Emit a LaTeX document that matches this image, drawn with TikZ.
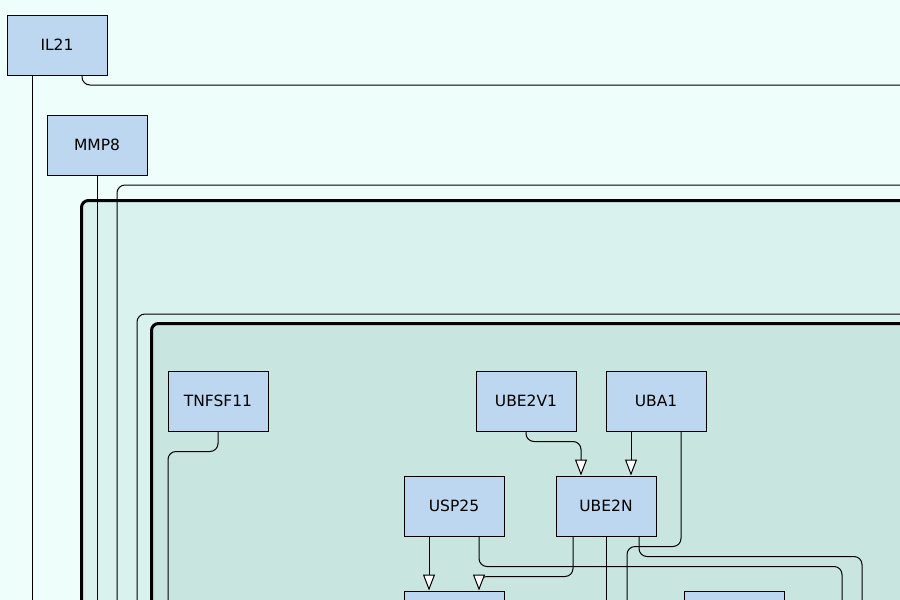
\documentclass[tikz,border=0pt]{standalone}
\usepackage{fontspec}
\setsansfont{DejaVu Sans}
\usetikzlibrary{arrows.meta}
\usepackage{xcolor}
\definecolor{bgmint}{RGB}{238,254,250}
\definecolor{compouter}{RGB}{218,242,237}
\definecolor{compinner}{RGB}{201,229,223}
\definecolor{genefill}{RGB}{189,215,240}
\tikzset{
 gene/.style={draw=black, line width=1pt, fill=genefill, minimum width=100pt, minimum height=60pt, inner sep=0pt, font=\sffamily\fontsize{15.5}{17}\selectfont},
 link/.style={black, line width=1pt, rounded corners=8pt},
 stim/.style={link, -{Triangle[length=16pt,width=12pt,fill=white]}},
 compartment/.style={draw=black, line width=3pt, rounded corners=7pt},
}
\begin{document}
\begin{tikzpicture}[x=1pt,y=-1pt]
\useasboundingbox (0,0) rectangle (900,600);
\clip (0,0) rectangle (900,600);
\fill[bgmint] (0,0) rectangle (900,600);
% free ends outside the frame
\coordinate (i1end) at (32,620);
\coordinate (i2end) at (920,85);
\coordinate (m1end) at (97,620);
\coordinate (o1beg) at (117,620);
\coordinate (o1end) at (920,185);
\coordinate (o2beg) at (137,620);
\coordinate (o2end) at (920,314);
\coordinate (t1end) at (168,620);
\coordinate (a1end) at (627,620);
\coordinate (u2end) at (842,620);
\coordinate (n2end) at (862,620);
\coordinate (n3end) at (606,620);
% compartments
\draw[compartment, fill=compouter] (81.5,200.5) rectangle (980,720);
\draw[compartment, fill=compinner] (151.5,323.5) rectangle (980,720);
% genes
\foreach \name/\x/\y in {IL21/57/45, MMP8/97/145, TNFSF11/218/401, UBE2V1/526/401, UBA1/656/401, USP25/454/506, UBE2N/606/506}
 \node[gene] (\name) at (\x,\y) {\name};
\node[gene] (lowA) at (454,621) {};
\node[gene] (lowB) at (734,621) {};
% links
\draw[link] (o1beg) |- (o1end);
\draw[link] (o2beg) |- (o2end);
\draw[link] ([xshift=-25]IL21.south) -- (i1end);
\draw[link] ([xshift=25]IL21.south) |- (i2end);
\draw[link] (MMP8.south) -- (m1end);
\draw[link] (TNFSF11.south) -- ++(0,20) -| (t1end);
\draw[stim] (UBE2V1.south) -- ++(0,10) -| ([xshift=-25]UBE2N.north);
\draw[stim] ([xshift=-25]UBA1.south) -- ([xshift=25]UBE2N.north);
\draw[link] ([xshift=25]UBA1.south) -- ++(0,115) -| (a1end);
\draw[stim] ([xshift=-25]USP25.south) -- ([xshift=-25]lowA.north);
\draw[link] ([xshift=25]USP25.south) -- ++(0,30) -| (u2end);
\draw[stim] ([xshift=-33]UBE2N.south) -- ++(0,40) -| ([xshift=25]lowA.north);
\draw[link] (UBE2N.south) -- (n3end);
\draw[link] ([xshift=33]UBE2N.south) -- ++(0,20) -| (n2end);
\end{tikzpicture}
\end{document}
